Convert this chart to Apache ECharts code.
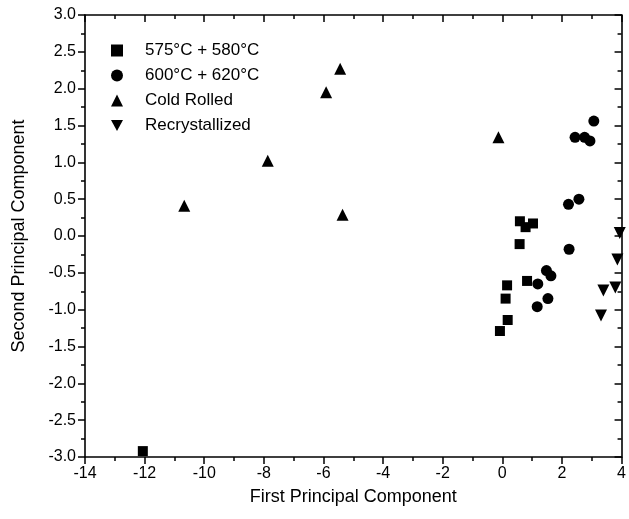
<!doctype html>
<html>
<head>
<meta charset="utf-8">
<title>PCA scatter</title>
<script src="https://cdn.jsdelivr.net/npm/echarts@6/dist/echarts.min.js"></script>
<style> html, body {margin:0;padding:0;background:#fff;} #main {width:629px;height:519px;} </style>
</head>
<body>
<div id="main"></div>
<script>
var names = ['575°C + 580°C', '600°C + 620°C', 'Cold Rolled', 'Recrystallized'];
var annealedLow = [
    [-12.06, -2.92], [0.59, 0.20], [0.78, 0.12], [1.03, 0.17], [0.58, -0.11],
    [0.83, -0.61], [0.16, -0.67], [0.11, -0.85], [0.18, -1.14], [-0.08, -1.29]
];
var annealedHigh = [
    [3.07, 1.56], [2.44, 1.34], [2.76, 1.34], [2.94, 1.29], [2.22, 0.43],
    [2.57, 0.50], [2.24, -0.18], [1.48, -0.47], [1.63, -0.54], [1.19, -0.65],
    [1.53, -0.85], [1.17, -0.96]
];
var coldRolled = [
    [-0.13, 1.34], [-5.44, 2.27], [-5.91, 1.95], [-7.87, 1.02], [-10.67, 0.41], [-5.36, 0.29]
];
var recrystallized = [
    [3.94, 0.04], [3.86, -0.32], [3.79, -0.70], [3.39, -0.74], [3.31, -1.08]
];

var font = 'Liberation Sans, Arial, sans-serif';
var downTriangle = 'path://M0,0L10,0L5,9Z';
var axisLine = {onZero: false, lineStyle: {color: '#000', width: 1.6}};
var tickStyle = {color: '#000', width: 1.5};
var c = echarts.init(document.getElementById('main'));
var option = {
    backgroundColor: '#fff',
    animation: false,
    grid: {left: 85, top: 15, right: 4, bottom: 62, containLabel: false},
    legend: {
        orient: 'vertical', left: 106, top: 37,
        itemWidth: 12, itemHeight: 12, itemGap: 8,
        data: names,
        textStyle: {fontFamily: font, fontSize: 17, color: '#000', padding: [0, 0, 0, 17]}
    },
    xAxis: [{
        type: 'value', min: -14, max: 4, interval: 2, position: 'bottom',
        name: 'First Principal Component', nameLocation: 'middle', nameGap: 31,
        nameTextStyle: {fontFamily: font, fontSize: 18, color: '#000'},
        axisLine: axisLine,
        axisTick: {inside: false, length: 7, lineStyle: tickStyle},
        minorTick: {show: true, splitNumber: 2, length: 4, lineStyle: tickStyle},
        axisLabel: {fontFamily: font, fontSize: 16, color: '#000', margin: 9},
        splitLine: {show: false}
    }, {
        type: 'value', min: -14, max: 4, interval: 2, position: 'top',
        axisLine: axisLine,
        axisTick: {inside: true, length: 7, lineStyle: tickStyle},
        minorTick: {show: true, splitNumber: 2, length: 4, lineStyle: tickStyle},
        axisLabel: {show: false},
        splitLine: {show: false}
    }],
    yAxis: [{
        type: 'value', min: -3, max: 3, interval: 0.5, position: 'left',
        name: 'Second Principal Component', nameLocation: 'middle', nameGap: 57,
        nameTextStyle: {fontFamily: font, fontSize: 18, color: '#000'},
        axisLine: axisLine,
        axisTick: {inside: false, length: 7, lineStyle: tickStyle},
        minorTick: {show: true, splitNumber: 2, length: 4, lineStyle: tickStyle},
        axisLabel: {fontFamily: font, fontSize: 16, color: '#000', margin: 9,
            formatter: function (v) { return v.toFixed(1); }},
        splitLine: {show: false}
    }, {
        type: 'value', min: -3, max: 3, interval: 0.5, position: 'right',
        axisLine: axisLine,
        axisTick: {inside: true, length: 7, lineStyle: tickStyle},
        minorTick: {show: true, splitNumber: 2, length: 4, lineStyle: tickStyle},
        axisLabel: {show: false},
        splitLine: {show: false}
    }],
    series: [
        {name: names[0], type: 'scatter', data: annealedLow, symbol: 'rect', symbolSize: 10,
            itemStyle: {color: '#000', opacity: 1}},
        {name: names[1], type: 'scatter', data: annealedHigh, symbol: 'circle', symbolSize: 11,
            itemStyle: {color: '#000', opacity: 1}},
        {name: names[2], type: 'scatter', data: coldRolled, symbol: 'triangle', symbolSize: 12,
            itemStyle: {color: '#000', opacity: 1}},
        {name: names[3], type: 'scatter', data: recrystallized, symbol: downTriangle,
            symbolSize: 12, itemStyle: {color: '#000', opacity: 1}}
    ]
};
c.setOption(option);
</script>
</body>
</html>
